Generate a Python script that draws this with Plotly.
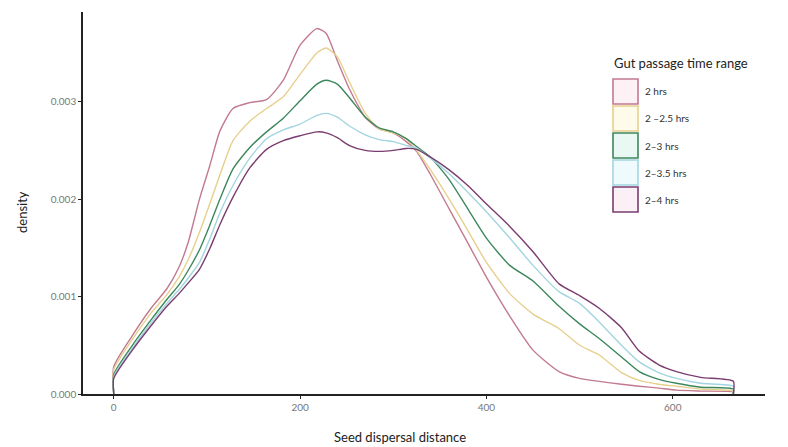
import plotly.graph_objects as go

# ---- data ----
distance = [0, 20, 40, 57, 70, 80, 92, 103, 114, 128, 146, 164, 182, 200, 218, 228,
            240, 253, 270, 285, 300, 314, 325, 340, 360, 380, 400, 425, 450, 478,
            500, 521, 545, 564, 585, 604, 630, 665]

d_2 = [0.00028, 0.0006, 0.00088, 0.00108, 0.0013, 0.00156, 0.002, 0.00234, 0.0027, 0.00293,
       0.00299, 0.00302, 0.00322, 0.00358, 0.00375, 0.0037, 0.00342, 0.00313, 0.00284, 0.00272,
       0.00268, 0.00259, 0.00249, 0.00225, 0.0019, 0.00155, 0.0012, 0.0008, 0.00045, 0.00023,
       0.00016, 0.00013, 0.0001, 0.00008, 0.00006, 0.00004, 0.00003, 0.00002]

d_25 = [0.00025, 0.00056, 0.00083, 0.00102, 0.0012, 0.00138, 0.00166, 0.00195, 0.00225, 0.0026,
        0.0028, 0.00293, 0.00305, 0.00328, 0.0035, 0.00355, 0.00346, 0.0032, 0.00288, 0.00272,
        0.00268, 0.00262, 0.0025, 0.0023, 0.002, 0.00168, 0.00135, 0.00103, 0.00082, 0.00067,
        0.0005, 0.0004, 0.00022, 0.00014, 0.0001, 0.00008, 0.00005, 0.00003]

d_3 = [0.0002, 0.0005, 0.00076, 0.00097, 0.00112, 0.00127, 0.00148, 0.00173, 0.002, 0.00231,
       0.00253, 0.00269, 0.00283, 0.00301, 0.00318, 0.00322, 0.00318, 0.00304, 0.00284, 0.00273,
       0.00269, 0.00262, 0.00254, 0.00243, 0.0022, 0.0019, 0.0016, 0.00132, 0.00116, 0.0009,
       0.00072, 0.00057, 0.00038, 0.00023, 0.00015, 0.00011, 0.00007, 0.00005]

d_35 = [0.00018, 0.00047, 0.00073, 0.00093, 0.00107, 0.00119, 0.00135, 0.00159, 0.00186, 0.00214,
        0.00242, 0.00262, 0.00271, 0.00277, 0.00286, 0.00288, 0.00284, 0.00275, 0.00266, 0.00261,
        0.00259, 0.00255, 0.00252, 0.00242, 0.00226, 0.00207, 0.00187, 0.0016, 0.00132, 0.00105,
        0.00093, 0.00074, 0.0005, 0.00033, 0.00022, 0.00016, 0.00011, 0.00008]

d_4 = [0.00016, 0.00045, 0.0007, 0.0009, 0.00103, 0.00114, 0.00128, 0.00149, 0.00174, 0.00202,
       0.00232, 0.00251, 0.0026, 0.00265, 0.00269, 0.00268, 0.00263, 0.00255, 0.0025, 0.00249,
       0.0025, 0.00252, 0.00251, 0.00243, 0.0023, 0.00214, 0.00195, 0.00172, 0.00146, 0.00113,
       0.00101, 0.00088, 0.00068, 0.00044, 0.0003, 0.00023, 0.00017, 0.00013]

groups = ["2 hrs", "2 \u20132.5 hrs", "2\u20133 hrs", "2\u20133.5 hrs", "2\u20134 hrs"]
series = [d_2, d_25, d_3, d_35, d_4]

y_ticks = [0.0, 0.001, 0.002, 0.003]
y_tick_text = ["0.000", "0.001", "0.002", "0.003"]
x_ticks = [0, 200, 400, 600]

# ---- styles ----
line_colors = ["#c27a8f", "#e6d08e", "#3d875c", "#a3d5e0", "#7a3d70"]
fill_colors = ["#fdf1f5", "#fffbea", "#e9f8f3", "#eefafc", "#fbf0f6"]

W, H = 788, 447
L, R, T, B = 83, 23, 12, 53
pw, ph = W - L - R, H - T - B

def px_x(px):
    return (px - L) / pw

def px_y(py):
    return (H - B - py) / ph

fig = go.Figure()
for name, vals, col in zip(groups, series, line_colors):
    xs = [distance[0]] + distance + [distance[-1]]
    ys = [0] + vals + [0]
    fig.add_trace(go.Scatter(x=xs, y=ys, mode="lines", name=name, showlegend=False,
                             line=dict(color=col, width=1.4, shape="spline", smoothing=0.6)))

font_family = "Lato, 'Open Sans', sans-serif"

fig.update_layout(
    width=W, height=H,
    margin=dict(l=L, r=R, t=T, b=B),
    plot_bgcolor="white", paper_bgcolor="white",
    font=dict(family=font_family, color="#333"),
    showlegend=False,
    xaxis=dict(range=[-33, 699], tickvals=x_ticks, showgrid=False, zeroline=False,
               showline=True, linecolor="#222", linewidth=1.6, ticks="outside",
               ticklen=3, tickcolor="#222", tickfont=dict(size=10, color="#777")),
    yaxis=dict(range=[0, 0.00392], tickvals=y_ticks, ticktext=y_tick_text, showgrid=False,
               zeroline=False, showline=True, linecolor="#222", linewidth=1.6,
               ticks="outside", ticklen=3, tickcolor="#222",
               tickfont=dict(size=10, color="#777")),
)

# axis titles
fig.add_annotation(text="Seed dispersal distance", xref="paper", yref="paper",
                   x=px_x(400), y=px_y(437), showarrow=False,
                   font=dict(size=13, color="#222"), xanchor="center", yanchor="middle")
fig.add_annotation(text="density", xref="paper", yref="paper",
                   x=px_x(22), y=px_y(212), showarrow=False, textangle=-90,
                   font=dict(size=13, color="#222"), xanchor="center", yanchor="middle")

# legend (manual)
fig.add_annotation(text="Gut passage time range", xref="paper", yref="paper",
                   x=px_x(612), y=px_y(63), showarrow=False,
                   font=dict(size=13, color="#222"), xanchor="left", yanchor="middle")
box_top, box_h, box_w, box_left = 78, 27, 25, 613
for i, (name, lc, fc) in enumerate(zip(groups, line_colors, fill_colors)):
    y0 = box_top + i * box_h
    fig.add_shape(type="rect", xref="paper", yref="paper",
                  x0=px_x(box_left), x1=px_x(box_left + box_w),
                  y0=px_y(y0 + 1), y1=px_y(y0 + box_h - 1),
                  line=dict(color=lc, width=1.6), fillcolor=fc)
    fig.add_annotation(text=name, xref="paper", yref="paper",
                       x=px_x(box_left + box_w + 5), y=px_y(y0 + box_h / 2),
                       showarrow=False, font=dict(size=10, color="#333"),
                       xanchor="left", yanchor="middle")

fig.write_html("out.html")
